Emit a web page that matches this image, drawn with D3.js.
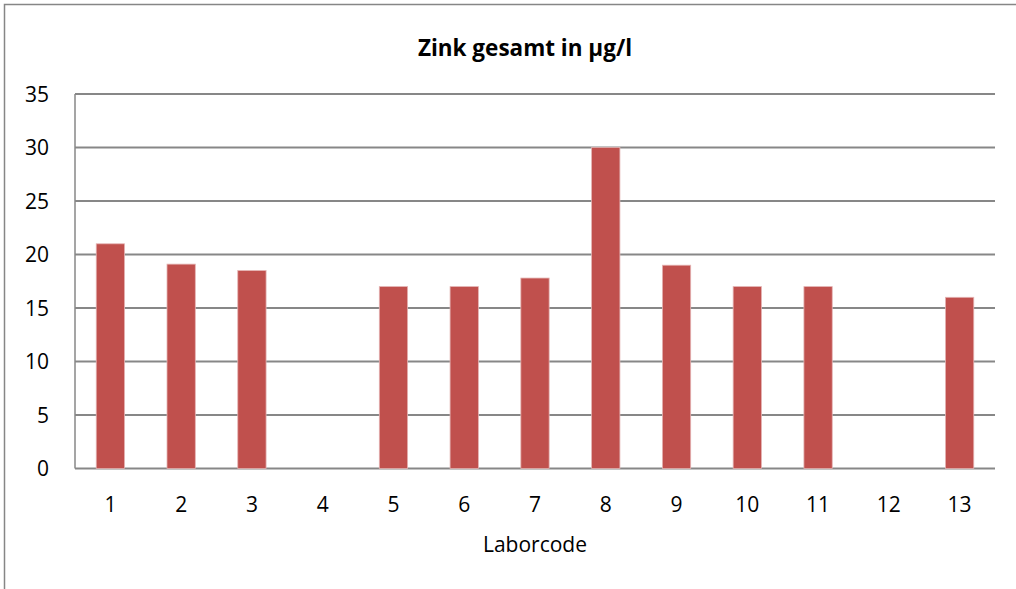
<!DOCTYPE html>
<html>
<head>
<meta charset="utf-8">
<script src="https://cdn.jsdelivr.net/npm/d3@7"></script>
<style>
  body { margin: 0; background: #fff; }
  svg text { font-family: "Open Sans", Lato, sans-serif; fill: #000; }
</style>
</head>
<body>
<svg id="canvas"></svg>
<script>
// Zink gesamt - bar chart per lab code
const labs = ['1', '2', '3', '4', '5', '6', '7', '8', '9', '10', '11', '12', '13'];
const zinc = [21, 19.1, 18.5, null, 17, 17, 17.8, 30, 19, 17, 17, null, 16];
const yTicks = [0, 5, 10, 15, 20, 25, 30, 35];

const width = 1016;
const height = 589;
const margin = { top: 94, right: 21, bottom: 120.5, left: 75 };

const canvas = d3.select('#canvas').attr('width', width).attr('height', height);

// outer frame (only top and left edges fall inside the picture)
canvas.append('rect')
    .attr('x', 4.5).attr('y', 4.5)
    .attr('width', width + 20).attr('height', height + 20)
    .attr('fill', 'none').attr('stroke', '#868686').attr('stroke-width', 1.5);

const x = d3.scaleBand()
    .domain(labs)
    .range([margin.left, width - margin.right])
    .paddingInner(0.6)
    .paddingOuter(0.3);

const y = d3.scaleLinear()
    .domain([0, 35])
    .range([height - margin.bottom, margin.top]);

// gridlines
canvas.append('g')
    .selectAll('line')
    .data(yTicks)
    .enter()
    .append('line')
    .attr('x1', margin.left)
    .attr('x2', width - margin.right)
    .attr('y1', (d) => y(d))
    .attr('y2', (d) => y(d))
    .attr('stroke', '#878787')
    .attr('stroke-width', 2);

// left axis line
canvas.append('line')
    .attr('x1', margin.left).attr('x2', margin.left)
    .attr('y1', y(35)).attr('y2', y(0))
    .attr('stroke', '#878787').attr('stroke-width', 1.5);

// y labels
canvas.append('g')
    .selectAll('text')
    .data(yTicks)
    .enter()
    .append('text')
    .attr('x', 49)
    .attr('y', (d) => y(d))
    .attr('dy', '0.36em')
    .attr('text-anchor', 'end')
    .attr('font-size', 21)
    .text((d) => d);

// bars
canvas.append('g')
    .selectAll('rect')
    .data(labs.map((l, i) => ({ lab: l, value: zinc[i] })).filter((d) => d.value != null))
    .enter()
    .append('rect')
    .attr('x', (d) => x(d.lab))
    .attr('y', (d) => y(d.value))
    .attr('width', x.bandwidth())
    .attr('height', (d) => y(0) - y(d.value))
    .attr('fill', '#c0504d')
    .attr('stroke', '#e4b4b3')
    .attr('stroke-width', 0.8);

// x labels
canvas.append('g')
    .selectAll('text')
    .data(labs)
    .enter()
    .append('text')
    .attr('x', (d) => x(d) + x.bandwidth() / 2)
    .attr('y', 512)
    .attr('text-anchor', 'middle')
    .attr('font-size', 21)
    .text((d) => d);

// axis title
canvas.append('text')
    .attr('x', (margin.left + width - margin.right) / 2)
    .attr('y', 552)
    .attr('text-anchor', 'middle')
    .attr('font-size', 21)
    .text('Laborcode');

// chart title
canvas.append('text')
    .attr('x', 525)
    .attr('y', 56)
    .attr('text-anchor', 'middle')
    .attr('font-size', 22.5)
    .attr('font-weight', 'bold')
    .text('Zink gesamt in µg/l');
</script>
</body>
</html>
